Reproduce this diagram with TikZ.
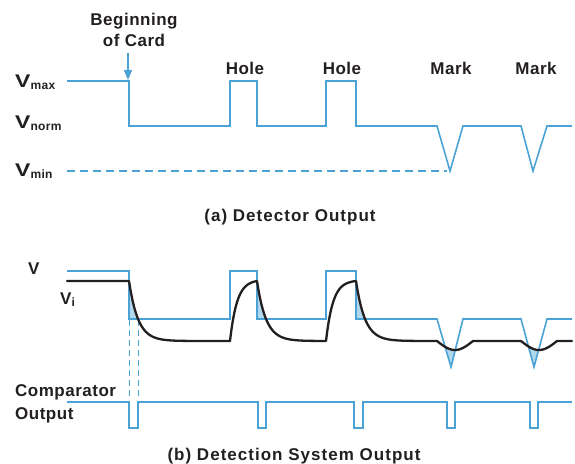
\documentclass[tikz,border=0pt]{standalone}
\usepackage{fontspec}
\setmainfont{Liberation Sans}
\newfontfamily\lblfont{Liberation Sans Bold}[LetterSpace=3]
\newfontfamily\capfont{Liberation Sans Bold}[LetterSpace=6]
\usetikzlibrary{arrows.meta}
\definecolor{sigblue}{RGB}{74,163,212}
\definecolor{shadeblue}{RGB}{178,216,237}
\definecolor{ink}{RGB}{35,31,32}
\begin{document}
\begin{tikzpicture}[x=1pt,y=-1pt,
  bluewave/.style={draw=sigblue,line width=1.6pt,line join=miter},
  viwave/.style={draw=ink,line width=2.3pt,line join=round,line cap=round},
  lab/.style={text=ink,font=\lblfont\fontsize{17}{19}\selectfont,inner sep=0pt,anchor=base west},
  clab/.style={text=ink,font=\lblfont\fontsize{17}{19}\selectfont,inner sep=0pt,anchor=base},
  caption/.style={text=ink,font=\capfont\fontsize{17}{19}\selectfont,inner sep=0pt,anchor=base},
  dashv/.style={draw=sigblue,line width=0.9pt,dash pattern=on 6pt off 4pt},
  shadefill/.style={fill=shadeblue}]
\useasboundingbox (0,0) rectangle (575,463);
\newcommand{\subl}[1]{\raisebox{-2pt}{\fontsize{12}{13}\selectfont #1}}
\newcommand{\bigV}{\scalebox{1.35}[1.08]{V}}

% ---------- (a) Detector output ----------
\node[clab] (beg) at (134,25) {Beginning};
\node[clab] (ofcard) at (134,46) {of Card};
\coordinate (arrS) at (128,53);
\coordinate (arrE) at (128,80);
\draw[sigblue,line width=1.6pt,-{Triangle[width=8pt,length=10pt]}] (arrS) -- (arrE);

\node[lab] (vmax) at (15,87) {\bigV\subl{max}};
\node[lab] (vnorm) at (15,128) {\bigV\subl{norm}};
\node[lab] (vmin) at (15,176) {\bigV\subl{min}};

\node[clab] (hole1) at (245,74) {Hole};
\node[clab] (hole2) at (342,74) {Hole};
\node[clab] (mark1) at (451,74) {Mark};
\node[clab] (mark2) at (536,74) {Mark};

\draw[sigblue,line width=1.2pt,dash pattern=on 8pt off 5pt] (67,171) -- (447,171);
\draw[bluewave] (67,81) -- (129,81) -- (129,126) -- (230,126) -- (230,81) -- (257,81)
  -- (257,126) -- (326,126) -- (326,81) -- (356,81) -- (356,126) -- (437,126)
  -- (450,171) -- (463,126) -- (521,126) -- (533,171) -- (547,126) -- (572,126);

\node[caption] (capa) at (290,221) {(a) Detector Output};

% ---------- (b) Detection system output ----------
\node[lab] (vlab) at (28,274) {V};
\node[lab] (vilab) at (60,304) {V\subl{i}};
\node[lab] (comp) at (15,396) {Comparator};
\node[lab] (outp) at (15,419) {Output};

% shaded areas
\foreach \s in {129,257,356}{
  \fill[shadefill] (\s,319) -- (\s,281)
    -- plot[domain=\s:{\s+9*ln(60/22)},samples=20] (\x,{341-60*exp(-(\x-\s)/9)})
    -- cycle;
}
\foreach \m/\b in {437/451,521/534}{
  \begin{scope}
    \clip (\m,319) -- (\b,367) -- (\m+26,319) -- cycle;
    \fill[shadefill] (\m-5,380) -- (\m-5,341) -- (\m,341)
      -- plot[domain=\m:\m+36,samples=40] (\x,{341+9*sin(180*(\x-\m)/36)})
      -- (\m+41,341) -- (\m+41,380) -- cycle;
  \end{scope}
}

\draw[dashv] (129,320) -- (129,397);
\draw[dashv] (138,320) -- (138,397);

\draw[bluewave] (67,271) -- (129,271) -- (129,319) -- (230,319) -- (230,271) -- (257,271)
  -- (257,319) -- (326,319) -- (326,271) -- (356,271) -- (356,319) -- (437,319)
  -- (451,367) -- (463,319) -- (521,319) -- (534,367) -- (547,319) -- (572,319);

\draw[viwave] (67,281) -- (129,281)
  -- plot[domain=129:230,samples=60] (\x,{341-60*exp(-(\x-129)/9)})
  -- plot[domain=230:257,samples=30] (\x,{341-60*(1-exp(-(\x-230)/7))/(1-exp(-27/7))})
  -- plot[domain=257:326,samples=50] (\x,{341-60*exp(-(\x-257)/9)})
  -- plot[domain=326:356,samples=30] (\x,{341-60*(1-exp(-(\x-326)/7))/(1-exp(-30/7))})
  -- plot[domain=356:437,samples=50] (\x,{341-60*exp(-(\x-356)/9)})
  -- plot[domain=437:473,samples=40] (\x,{341+9*sin(180*(\x-437)/36)})
  -- (521,341)
  -- plot[domain=521:557,samples=40] (\x,{341+9*sin(180*(\x-521)/36)})
  -- (572,341);

\draw[bluewave] (67,402) -- (129,402) -- (129,428) -- (138,428) -- (138,402)
  -- (258,402) -- (258,428) -- (266,428) -- (266,402)
  -- (354,402) -- (354,428) -- (363,428) -- (363,402)
  -- (447,402) -- (447,428) -- (455,428) -- (455,402)
  -- (530,402) -- (530,428) -- (538,428) -- (538,402) -- (572,402);

\node[caption] (capb) at (294,460) {(b) Detection System Output};
\end{tikzpicture}
\end{document}
